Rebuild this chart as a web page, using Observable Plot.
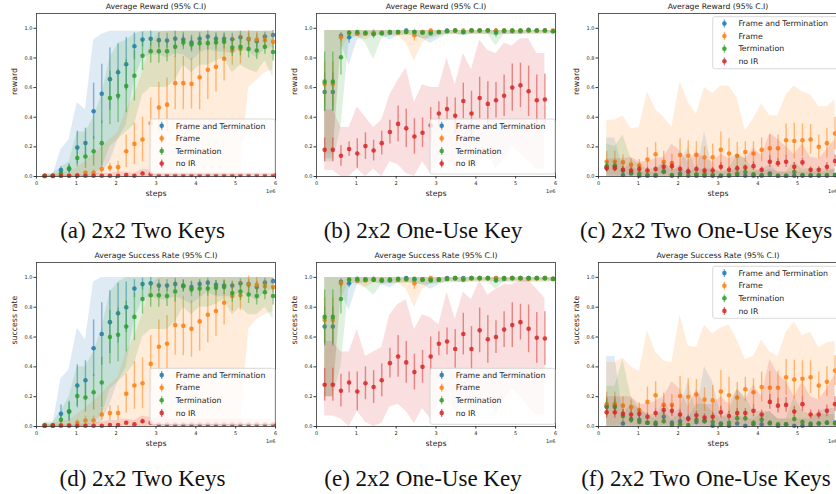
<!DOCTYPE html>
<html><head><meta charset="utf-8">
<script src="https://cdn.jsdelivr.net/npm/d3@7"></script>
<script src="https://cdn.jsdelivr.net/npm/@observablehq/plot@0.6"></script>
<style>
html,body{margin:0;padding:0;background:#fff;overflow:hidden;}
#fig{position:relative;width:836px;height:494px;overflow:hidden;background:#fff;}
.panel{position:absolute;width:280px;height:200px;}
#overlay{position:absolute;left:0;top:0;pointer-events:none;}
</style>
</head><body>
<div id="fig"></div>
<script>
// ---------- shared ----------
const steps = [0.205,0.410,0.614,0.819,1.024,1.229,1.434,1.638,1.843,2.048,2.253,2.458,2.662,2.867,3.072,3.277,3.482,3.686,3.891,4.096,4.301,4.506,4.710,4.915,5.120,5.325,5.530,5.734,5.939]; // x 1e6
const xTicks = [0,1,2,3,4,5,6];
const yTicks = [0.0,0.2,0.4,0.6,0.8,1.0];
const seriesNames = ["Frame and Termination","Frame","Termination","no IR"];
const seriesColors = ["#1f77b4","#ff7f0e","#2ca02c","#d62728"];
const titles = ["Average Reward (95% C.I)","Average Success Rate (95% C.I)"];
const yLabels = ["reward","success rate"];
const captions = ["(a) 2x2 Two Keys","(b) 2x2 One-Use Key","(c) 2x2 Two One-Use Keys","(d) 2x2 Two Keys","(e) 2x2 One-Use Key","(f) 2x2 Two One-Use Keys"];
const Z29 = [0,0,0,0,0,0,0,0,0,0,0,0,0,0,0,0,0,0,0,0,0,0,0,0,0,0,0,0,0];

// ---------- (a) 2x2 Two Keys, reward ----------
const aFT_m = [0.003,0.005,0.043,0.05,0.195,0.226,0.44,0.558,0.657,0.704,0.758,0.879,0.924,0.93,0.92,0.917,0.93,0.924,0.904,0.93,0.944,0.93,0.93,0.926,0.94,0.928,0.912,0.944,0.955];
const aFT_e = [0.004,0.004,0.025,0.03,0.11,0.1,0.19,0.2,0.21,0.19,0.18,0.09,0.05,0.05,0.05,0.05,0.05,0.05,0.05,0.04,0.04,0.04,0.04,0.04,0.04,0.04,0.05,0.03,0.03];
const aFT_lo = [0,0,0,0,0,0,0,0.02,0.1,0.25,0.35,0.65,0.8,0.82,0.82,0.8,0.83,0.82,0.78,0.83,0.86,0.84,0.84,0.83,0.86,0.84,0.8,0.86,0.87];
const aFT_hi = [0.01,0.01,0.18,0.25,0.5,0.45,0.92,0.96,0.98,0.98,0.98,0.98,0.98,0.98,0.98,0.98,0.98,0.98,0.98,0.98,0.98,0.98,0.98,0.98,0.98,0.98,0.98,0.98,0.98];
const aF_m = [0.002,0.002,0.005,0.005,0.01,0.025,0.025,0.05,0.06,0.063,0.17,0.22,0.25,0.36,0.465,0.485,0.63,0.63,0.625,0.67,0.72,0.74,0.795,0.85,0.86,0.925,0.925,0.92,0.91];
const aF_e = [0.003,0.003,0.005,0.005,0.01,0.015,0.02,0.025,0.03,0.04,0.11,0.14,0.15,0.17,0.17,0.18,0.18,0.18,0.17,0.22,0.2,0.17,0.15,0.1,0.1,0.06,0.05,0.04,0.05];
const aF_lo = [0,0,0,0,0,0,0,0,0,0,0,0,0,0,0,0,0,0,0,0,0,0,0,0,0,0.6,0.65,0.7,0.72];
const aF_hi = [0.01,0.01,0.03,0.03,0.06,0.1,0.15,0.2,0.25,0.3,0.45,0.55,0.7,0.9,0.97,0.98,0.98,0.98,0.98,0.98,0.98,0.98,0.98,0.98,0.98,0.98,0.98,0.98,0.98];
const aT_m = [0.005,0.005,0.02,0.055,0.125,0.135,0.17,0.225,0.53,0.545,0.61,0.68,0.815,0.845,0.845,0.845,0.875,0.905,0.89,0.9,0.9,0.905,0.91,0.87,0.875,0.86,0.85,0.875,0.84];
const aT_e = [0.005,0.005,0.02,0.03,0.06,0.08,0.1,0.15,0.18,0.18,0.18,0.17,0.1,0.08,0.08,0.07,0.07,0.05,0.05,0.05,0.05,0.05,0.05,0.06,0.06,0.06,0.06,0.05,0.06];
const aT_lo = [0,0,0,0,0,0,0.02,0.05,0.2,0.25,0.3,0.35,0.55,0.6,0.6,0.6,0.65,0.75,0.7,0.75,0.75,0.78,0.8,0.7,0.75,0.72,0.7,0.78,0.67];
const aT_hi = [0.02,0.02,0.06,0.1,0.3,0.3,0.4,0.55,0.8,0.9,0.92,0.96,0.98,0.98,0.98,0.98,0.98,0.98,0.98,0.98,0.98,0.98,0.98,0.98,0.98,0.98,0.98,0.98,0.98];
const aN_m = [0.005,0.005,0.005,0.005,0.005,0.005,0.005,0.005,0.005,0.005,0.01,0.005,0.02,0.015,0.01,0.01,0.01,0.01,0.01,0.01,0.01,0.01,0.01,0.01,0.01,0.01,0.01,0.01,0.01];
const aN_e = [0.004,0.004,0.004,0.004,0.004,0.004,0.004,0.004,0.004,0.004,0.006,0.004,0.01,0.01,0.006,0.006,0.006,0.006,0.006,0.006,0.006,0.006,0.006,0.006,0.006,0.006,0.006,0.006,0.006];
const aN_hi = [0.01,0.01,0.01,0.01,0.01,0.01,0.02,0.02,0.02,0.03,0.03,0.02,0.05,0.04,0.03,0.03,0.03,0.03,0.03,0.03,0.03,0.03,0.03,0.03,0.03,0.03,0.03,0.03,0.03];

// ---------- (b) 2x2 One-Use Key, reward ----------
const bFT_m = [0.57,0.57,0.95,0.94,0.965,0.965,0.965,0.97,0.97,0.975,0.985,0.975,0.975,0.975,0.975,0.985,0.985,0.975,0.985,0.985,0.985,0.98,0.98,0.98,0.98,0.99,0.985,0.985,0.98];
const bFT_e = [0.13,0.13,0.02,0.04,0.01,0.01,0.01,0.01,0.01,0.01,0.01,0.01,0.01,0.01,0.01,0.01,0.01,0.01,0.01,0.01,0.01,0.01,0.01,0.01,0.01,0.01,0.01,0.01,0.01];
const bFT_lo = [0.12,0.12,0.9,0.75,0.92,0.95,0.96,0.95,0.92,0.95,0.96,0.95,0.93,0.9,0.93,0.96,0.96,0.95,0.96,0.96,0.96,0.95,0.96,0.96,0.96,0.97,0.97,0.97,0.97];
const bFT_hi = [0.985,0.985,0.985,0.985,0.985,0.985,0.985,0.985,0.985,0.985,0.985,0.985,0.985,0.985,0.985,0.985,0.985,0.985,0.985,0.985,0.985,0.985,0.985,0.985,0.985,0.985,0.985,0.985,0.985];
const bF_m = [0.625,0.625,0.94,0.97,0.965,0.965,0.97,0.97,0.975,0.97,0.975,0.953,0.975,0.985,0.975,0.98,0.985,0.985,0.985,0.985,0.985,0.985,0.985,0.985,0.985,0.985,0.985,0.985,0.985];
const bF_e = [0.15,0.15,0.03,0.01,0.01,0.01,0.01,0.01,0.01,0.01,0.01,0.04,0.01,0.01,0.01,0.01,0.01,0.01,0.01,0.01,0.01,0.01,0.01,0.01,0.01,0.01,0.01,0.01,0.01];
const bF_lo = [0.15,0.15,0.85,0.95,0.94,0.92,0.95,0.95,0.95,0.95,0.9,0.78,0.9,0.95,0.95,0.96,0.96,0.96,0.96,0.96,0.96,0.96,0.96,0.96,0.96,0.96,0.96,0.96,0.96];
const bF_hi = bFT_hi;
const bT_m = [0.64,0.64,0.805,0.97,0.975,0.97,0.96,0.965,0.975,0.975,0.975,0.975,0.97,0.965,0.975,0.98,0.985,0.975,0.985,0.985,0.985,0.97,0.985,0.985,0.985,0.985,0.985,0.985,0.98];
const bT_e = [0.2,0.2,0.12,0.01,0.01,0.01,0.03,0.01,0.01,0.01,0.01,0.01,0.01,0.01,0.01,0.01,0.01,0.01,0.01,0.01,0.01,0.03,0.01,0.01,0.01,0.01,0.01,0.01,0.01];
const bT_lo = [0.1,0.1,0.33,0.92,0.95,0.9,0.79,0.93,0.95,0.95,0.95,0.95,0.93,0.93,0.95,0.96,0.96,0.95,0.96,0.96,0.96,0.88,0.96,0.96,0.96,0.96,0.96,0.96,0.96];
const bT_hi = bFT_hi;
const bN_m = [0.18,0.18,0.14,0.185,0.155,0.205,0.175,0.225,0.3,0.355,0.325,0.27,0.295,0.345,0.425,0.455,0.41,0.51,0.425,0.53,0.49,0.515,0.545,0.6,0.615,0.575,0.515,0.52];
const bN_e = [0.08,0.08,0.07,0.05,0.1,0.09,0.07,0.08,0.08,0.12,0.13,0.12,0.1,0.12,0.08,0.08,0.12,0.12,0.15,0.14,0.15,0.12,0.14,0.16,0.15,0.17,0.17,0.17];
const bN_lo = [0.04,0.04,0.0,0.0,0.05,0.0,0.05,0.0,0.1,0.08,0.02,0.0,0.1,0.02,0.1,0.12,0.05,0.12,0.05,0.1,0.15,0.05,0.12,0.2,0.15,0.1,0.05,0.05];
const bN_hi = [0.45,0.45,0.33,0.33,0.47,0.4,0.33,0.38,0.55,0.65,0.73,0.5,0.62,0.6,0.6,0.8,0.62,0.83,0.72,0.92,0.85,0.83,0.9,0.88,0.93,0.93,0.83,0.83];

// ---------- (c) 2x2 Two One-Use Keys, reward ----------
const cFT_m = [0.06,0.07,0.01,0.02,0.005,0.005,0.005,0.035,0.005,0.02,0.03,0.005,0.005,0.005,0.005,0.005,0.01,0.005,0.005,0.01,0.02,0.005,0.005,0.005,0.005,0.005,0.005,0.005,0.01];
const cFT_e = [0.03,0.03,0.01,0.01,0.005,0.005,0.005,0.02,0.005,0.01,0.02,0.005,0.005,0.005,0.005,0.005,0.01,0.005,0.005,0.01,0.01,0.005,0.005,0.005,0.005,0.005,0.005,0.005,0.01];
const cFT_hi = [0.26,0.26,0.05,0.08,0.03,0.03,0.03,0.1,0.03,0.08,0.2,0.03,0.3,0.05,0.03,0.03,0.05,0.03,0.03,0.05,0.08,0.03,0.03,0.03,0.03,0.03,0.03,0.03,0.05];
const cF_m = [0.1,0.1,0.095,0.08,0.075,0.115,0.15,0.1,0.09,0.145,0.14,0.145,0.13,0.13,0.18,0.155,0.14,0.165,0.155,0.18,0.19,0.19,0.245,0.24,0.245,0.25,0.2,0.225,0.29];
const cF_e = [0.07,0.07,0.05,0.04,0.04,0.08,0.08,0.07,0.06,0.11,0.1,0.09,0.07,0.09,0.12,0.1,0.09,0.07,0.08,0.08,0.09,0.09,0.11,0.12,0.11,0.1,0.08,0.1,0.11];
const cF_lo = [0.01,0.01,0.01,0.01,0.01,0.01,0.01,0.01,0.01,0.01,0.01,0.01,0.01,0.01,0.01,0.01,0.01,0.01,0.01,0.01,0.01,0.01,0.01,0.01,0.01,0.01,0.01,0.01,0.01];
const cF_hi = [0.38,0.38,0.41,0.32,0.33,0.57,0.45,0.4,0.33,0.64,0.5,0.42,0.6,0.56,0.61,0.61,0.53,0.31,0.39,0.49,0.41,0.41,0.55,0.61,0.57,0.55,0.47,0.47,0.52];
const cT_m = [0.07,0.07,0.04,0.025,0.02,0.01,0.01,0.03,0.01,0.01,0.005,0.015,0.015,0.01,0.005,0.01,0.02,0.03,0.015,0.005,0.01,0.005,0.005,0.03,0.01,0.01,0.01,0.01,0.01];
const cT_e = [0.03,0.03,0.03,0.02,0.01,0.005,0.005,0.015,0.005,0.005,0.005,0.01,0.01,0.005,0.005,0.005,0.015,0.02,0.01,0.005,0.005,0.005,0.005,0.02,0.005,0.005,0.005,0.005,0.005];
const cT_hi = [0.22,0.2,0.28,0.12,0.08,0.05,0.05,0.1,0.05,0.05,0.03,0.05,0.05,0.05,0.03,0.05,0.15,0.12,0.05,0.03,0.05,0.03,0.03,0.1,0.05,0.05,0.05,0.05,0.05];
const cN_m = [0.055,0.055,0.045,0.04,0.05,0.04,0.05,0.065,0.07,0.05,0.035,0.05,0.04,0.04,0.065,0.045,0.055,0.06,0.07,0.045,0.1,0.09,0.1,0.065,0.095,0.045,0.045,0.065,0.105];
const cN_e = [0.02,0.02,0.02,0.02,0.02,0.02,0.02,0.02,0.03,0.02,0.02,0.02,0.02,0.02,0.03,0.02,0.02,0.02,0.03,0.02,0.04,0.03,0.04,0.03,0.03,0.02,0.02,0.03,0.04];
const cN_hi = [0.12,0.12,0.12,0.13,0.1,0.1,0.12,0.13,0.22,0.17,0.1,0.17,0.12,0.1,0.15,0.12,0.15,0.12,0.19,0.14,0.29,0.25,0.2,0.15,0.22,0.13,0.12,0.18,0.25];

// ---------- (d) 2x2 Two Keys, success rate ----------
const dFT_m = [0.005,0.005,0.085,0.1,0.275,0.31,0.525,0.62,0.7,0.76,0.8,0.925,0.955,0.96,0.945,0.945,0.955,0.945,0.935,0.955,0.965,0.95,0.945,0.945,0.96,0.955,0.935,0.965,0.975];
const dFT_e = [0.005,0.005,0.06,0.07,0.14,0.13,0.19,0.21,0.21,0.2,0.17,0.06,0.04,0.04,0.04,0.04,0.04,0.04,0.04,0.03,0.03,0.03,0.03,0.03,0.03,0.03,0.04,0.03,0.02];
const dFT_lo = [0,0,0,0,0,0,0,0.03,0.15,0.3,0.4,0.72,0.85,0.87,0.85,0.85,0.87,0.85,0.82,0.86,0.9,0.87,0.87,0.87,0.9,0.88,0.84,0.9,0.92];
const dFT_hi = [0.01,0.01,0.32,0.38,0.66,0.58,0.97,1,1,1,1,1,1,1,1,1,1,1,1,1,1,1,1,1,1,1,1,1,1];
const dF_m = [0.005,0.005,0.01,0.01,0.025,0.04,0.04,0.08,0.09,0.09,0.22,0.275,0.29,0.42,0.535,0.555,0.68,0.675,0.655,0.705,0.75,0.775,0.83,0.875,0.88,0.95,0.95,0.94,0.935];
const dF_e = [0.005,0.005,0.01,0.01,0.02,0.03,0.03,0.04,0.05,0.05,0.13,0.16,0.17,0.19,0.18,0.19,0.2,0.2,0.19,0.2,0.19,0.17,0.15,0.1,0.1,0.06,0.05,0.04,0.04];
const dF_lo = [0,0,0,0,0,0,0,0,0,0,0,0,0,0,0,0,0,0,0,0,0,0,0,0,0,0.65,0.72,0.75,0.77];
const dF_hi = [0.02,0.02,0.04,0.04,0.08,0.12,0.17,0.22,0.28,0.33,0.5,0.6,0.75,0.95,1,1,1,1,1,1,1,1,1,1,1,1,1,1,1];
const dT_m = [0.01,0.01,0.045,0.1,0.205,0.195,0.23,0.295,0.6,0.615,0.67,0.735,0.855,0.88,0.88,0.875,0.905,0.94,0.92,0.925,0.925,0.93,0.935,0.895,0.905,0.885,0.875,0.9,0.875];
const dT_e = [0.005,0.005,0.03,0.06,0.08,0.1,0.12,0.17,0.18,0.18,0.17,0.16,0.1,0.08,0.08,0.07,0.07,0.04,0.05,0.05,0.05,0.05,0.05,0.06,0.06,0.06,0.06,0.05,0.06];
const dT_lo = [0,0,0,0,0,0,0.03,0.07,0.25,0.3,0.35,0.42,0.6,0.65,0.65,0.65,0.7,0.8,0.75,0.8,0.8,0.82,0.85,0.75,0.8,0.75,0.75,0.8,0.72];
const dT_hi = [0.03,0.03,0.1,0.2,0.4,0.4,0.5,0.65,0.9,0.97,1,1,1,1,1,1,1,1,1,1,1,1,1,1,1,1,1,1,1];
const dN_m = [0.005,0.005,0.005,0.005,0.005,0.005,0.005,0.005,0.01,0.01,0.025,0.015,0.035,0.025,0.015,0.015,0.015,0.015,0.015,0.015,0.015,0.015,0.015,0.015,0.015,0.015,0.015,0.015,0.015];
const dN_e = [0.004,0.004,0.004,0.004,0.004,0.004,0.004,0.004,0.006,0.006,0.01,0.008,0.015,0.012,0.008,0.008,0.008,0.008,0.008,0.008,0.008,0.008,0.008,0.008,0.008,0.008,0.008,0.008,0.008];
const dN_hi = [0.01,0.01,0.01,0.01,0.01,0.02,0.02,0.03,0.04,0.04,0.05,0.04,0.07,0.06,0.05,0.05,0.05,0.05,0.05,0.05,0.05,0.05,0.05,0.05,0.05,0.05,0.05,0.05,0.05];

// ---------- (e) 2x2 One-Use Key, success rate ----------
const eFT_m = [0.67,0.67,0.97,0.96,0.98,0.985,0.985,0.98,0.98,0.985,0.995,0.985,0.985,0.985,0.985,0.995,0.995,0.995,0.995,0.995,0.995,0.995,0.99,0.995,0.995,0.995,0.995,0.995,0.99];
const eFT_e = [0.13,0.13,0.02,0.03,0.01,0.01,0.01,0.01,0.01,0.01,0.01,0.01,0.01,0.01,0.01,0.01,0.01,0.01,0.01,0.01,0.01,0.01,0.01,0.01,0.01,0.01,0.01,0.01,0.01];
const eFT_lo = [0.2,0.2,0.9,0.78,0.95,0.97,0.97,0.95,0.93,0.96,0.97,0.96,0.95,0.92,0.95,0.97,0.97,0.97,0.98,0.98,0.98,0.97,0.97,0.98,0.98,0.98,0.98,0.98,0.98];
const eFT_hi = [1,1,1,1,1,1,1,1,1,1,1,1,1,1,1,1,1,1,1,1,1,1,1,1,1,1,1,1,1];
const eF_m = [0.715,0.715,0.96,0.985,0.98,0.98,0.985,0.985,0.985,0.985,0.985,0.96,0.985,0.995,0.985,0.99,0.995,0.99,0.995,0.995,0.995,0.995,0.995,0.995,0.995,0.99,0.995,0.995,0.99];
const eF_e = [0.15,0.15,0.03,0.01,0.01,0.01,0.01,0.01,0.01,0.01,0.01,0.04,0.01,0.01,0.01,0.01,0.01,0.01,0.01,0.01,0.01,0.01,0.01,0.01,0.01,0.01,0.01,0.01,0.01];
const eF_lo = [0.2,0.2,0.85,0.97,0.95,0.93,0.96,0.96,0.96,0.96,0.92,0.8,0.92,0.96,0.96,0.97,0.97,0.97,0.97,0.97,0.97,0.97,0.97,0.97,0.97,0.97,0.97,0.97,0.97];
const eF_hi = eFT_hi;
const eT_m = [0.735,0.735,0.855,0.985,0.99,0.985,0.985,0.98,0.985,0.99,0.99,0.99,0.985,0.98,0.985,0.99,0.995,0.985,0.995,0.995,0.995,0.98,0.995,0.995,0.995,0.995,0.995,0.995,0.99];
const eT_e = [0.18,0.18,0.1,0.01,0.01,0.01,0.02,0.01,0.01,0.01,0.01,0.01,0.01,0.01,0.01,0.01,0.01,0.01,0.01,0.01,0.01,0.02,0.01,0.01,0.01,0.01,0.01,0.01,0.01];
const eT_lo = [0.2,0.2,0.4,0.95,0.97,0.93,0.88,0.95,0.96,0.96,0.96,0.96,0.95,0.95,0.96,0.97,0.97,0.96,0.97,0.97,0.97,0.92,0.97,0.97,0.97,0.97,0.97,0.97,0.97];
const eT_hi = eFT_hi;
const eN_m = [0.28,0.28,0.24,0.295,0.235,0.29,0.265,0.31,0.425,0.47,0.43,0.365,0.4,0.47,0.555,0.57,0.52,0.62,0.52,0.645,0.585,0.6,0.65,0.68,0.7,0.655,0.595,0.59];
const eN_e = [0.11,0.11,0.11,0.07,0.13,0.11,0.11,0.11,0.1,0.14,0.14,0.12,0.11,0.13,0.08,0.09,0.13,0.14,0.15,0.15,0.16,0.11,0.12,0.15,0.12,0.16,0.17,0.18];
const eN_lo = [0.07,0.07,0.05,0.0,0.1,0.03,0.0,0.02,0.13,0.15,0.1,0.02,0.12,0.05,0.15,0.18,0.1,0.17,0.07,0.15,0.2,0.08,0.17,0.25,0.2,0.13,0.07,0.07];
const eN_hi = [0.57,0.57,0.5,0.5,0.65,0.47,0.5,0.53,0.75,0.82,0.85,0.65,0.75,0.73,0.68,0.9,0.72,0.9,0.85,0.98,0.88,0.92,0.95,0.95,0.98,0.98,0.92,0.86];

// ---------- (f) 2x2 Two One-Use Keys, success rate ----------
const fFT_m = [0.135,0.14,0.02,0.045,0.045,0.025,0.015,0.065,0.025,0.035,0.055,0.03,0.035,0.005,0.02,0.005,0.02,0.005,0.015,0.015,0.02,0.005,0.015,0.005,0.005,0.01,0.02,0.025,0.025];
const fFT_e = [0.06,0.06,0.015,0.02,0.02,0.015,0.01,0.03,0.015,0.02,0.025,0.02,0.02,0.005,0.01,0.005,0.01,0.005,0.01,0.01,0.01,0.005,0.01,0.005,0.005,0.01,0.01,0.015,0.015];
const fFT_hi = [0.47,0.47,0.08,0.15,0.12,0.08,0.05,0.18,0.08,0.12,0.3,0.1,0.4,0.3,0.08,0.05,0.08,0.05,0.05,0.08,0.1,0.05,0.05,0.05,0.05,0.05,0.1,0.12,0.12];
const fF_m = [0.15,0.15,0.14,0.13,0.11,0.165,0.21,0.145,0.145,0.205,0.2,0.215,0.18,0.175,0.235,0.21,0.195,0.25,0.23,0.265,0.26,0.26,0.33,0.315,0.32,0.33,0.275,0.3,0.375];
const fF_e = [0.08,0.08,0.06,0.05,0.05,0.1,0.09,0.08,0.07,0.13,0.12,0.1,0.08,0.1,0.14,0.12,0.1,0.08,0.09,0.1,0.11,0.11,0.12,0.13,0.12,0.11,0.09,0.1,0.1];
const fF_lo = cF_lo;
const fF_hi = [0.43,0.43,0.46,0.4,0.37,0.64,0.5,0.44,0.43,0.75,0.54,0.53,0.68,0.62,0.66,0.68,0.58,0.45,0.47,0.58,0.5,0.47,0.63,0.7,0.61,0.63,0.53,0.56,0.57];
const fT_m = [0.13,0.13,0.07,0.05,0.03,0.025,0.025,0.035,0.01,0.015,0.01,0.045,0.04,0.03,0.01,0.025,0.055,0.055,0.025,0.045,0.025,0.015,0.015,0.05,0.03,0.02,0.02,0.025,0.02];
const fT_e = [0.05,0.05,0.04,0.03,0.02,0.015,0.015,0.02,0.01,0.01,0.01,0.02,0.02,0.02,0.01,0.015,0.025,0.025,0.015,0.02,0.015,0.01,0.01,0.02,0.015,0.01,0.01,0.015,0.01];
const fT_hi = [0.27,0.27,0.45,0.2,0.12,0.08,0.08,0.1,0.05,0.08,0.05,0.15,0.15,0.1,0.05,0.1,0.25,0.2,0.1,0.1,0.1,0.05,0.05,0.2,0.1,0.08,0.08,0.08,0.08];
const fN_m = [0.095,0.095,0.085,0.08,0.085,0.065,0.09,0.11,0.105,0.08,0.05,0.075,0.06,0.065,0.095,0.07,0.09,0.09,0.105,0.08,0.165,0.14,0.145,0.1,0.15,0.08,0.08,0.105,0.15];
const fN_e = [0.04,0.04,0.03,0.03,0.03,0.025,0.03,0.035,0.04,0.03,0.02,0.03,0.025,0.025,0.04,0.03,0.03,0.03,0.04,0.03,0.05,0.05,0.05,0.035,0.05,0.03,0.03,0.04,0.05];
const fN_hi = [0.2,0.2,0.2,0.2,0.15,0.15,0.17,0.2,0.3,0.25,0.13,0.25,0.15,0.15,0.2,0.15,0.25,0.18,0.28,0.2,0.45,0.35,0.3,0.2,0.3,0.2,0.18,0.25,0.35];

// ---------- layout ----------
const panelLefts = [0, 280, 562];
const rowTops = [0, 250];
const rowMarginTop = [13, 12];
const captionX = [142.5, 423, 706];
const captionBaseline = [238, 486];
// legend boxes: [left, top, width, height]
const legendBoxes = [[150,119,125,55],[430,119,125,55],[712.7,16.7,130,52],[150,368.3,125,56],[430,368.3,125,56],[712.7,266.3,130,52]];

function S(m,e,lo,hi){return {m,e,lo,hi};}
const panels = [
  [S(aFT_m,aFT_e,aFT_lo,aFT_hi),S(aF_m,aF_e,aF_lo,aF_hi),S(aT_m,aT_e,aT_lo,aT_hi),S(aN_m,aN_e,Z29,aN_hi)],
  [S(bFT_m,bFT_e,bFT_lo,bFT_hi),S(bF_m,bF_e,bF_lo,bF_hi),S(bT_m,bT_e,bT_lo,bT_hi),S(bN_m,bN_e,bN_lo,bN_hi)],
  [S(cFT_m,cFT_e,Z29,cFT_hi),S(cF_m,cF_e,cF_lo,cF_hi),S(cT_m,cT_e,Z29,cT_hi),S(cN_m,cN_e,Z29,cN_hi)],
  [S(dFT_m,dFT_e,dFT_lo,dFT_hi),S(dF_m,dF_e,dF_lo,dF_hi),S(dT_m,dT_e,dT_lo,dT_hi),S(dN_m,dN_e,Z29,dN_hi)],
  [S(eFT_m,eFT_e,eFT_lo,eFT_hi),S(eF_m,eF_e,eF_lo,eF_hi),S(eT_m,eT_e,eT_lo,eT_hi),S(eN_m,eN_e,eN_lo,eN_hi)],
  [S(fFT_m,fFT_e,Z29,fFT_hi),S(fF_m,fF_e,fF_lo,fF_hi),S(fT_m,fT_e,Z29,fT_hi),S(fN_m,fN_e,Z29,fN_hi)]
];

const fig = document.getElementById("fig");
const txt = "#222";

panels.forEach((series, pi) => {
  const row = Math.floor(pi / 3), col = pi % 3;
  const marks = [];
  series.forEach((s, si) => {
    const color = seriesColors[si];
    const d = s.m.map((v, i) => ({x: steps[i], m: v, e: s.e[i], lo: s.lo[i], hi: s.hi[i]}));
    marks.push(Plot.areaY(d, {x: "x", y1: "lo", y2: "hi", fill: color, fillOpacity: 0.15}));
    marks.push(Plot.ruleX(d, {x: "x", y1: r => Math.max(0, r.m - r.e), y2: r => r.m + r.e, stroke: color, strokeOpacity: 0.5, strokeWidth: 1.4}));
    marks.push(Plot.dot(d, {x: "x", y: "m", fill: color, fillOpacity: 0.85, r: 2.3}));
  });
  marks.push(Plot.frame({stroke: "#333", strokeWidth: 0.8}));
  marks.push(Plot.axisX({ticks: xTicks, tickFormat: d => String(d), tickSize: 2.5, tickPadding: 2.5, fontSize: 5, label: null, stroke: "#333"}));
  marks.push(Plot.axisY({ticks: yTicks, tickFormat: d => d.toFixed(1), tickSize: 2.5, tickPadding: 1.5, fontSize: 5, label: null, stroke: "#333"}));
  marks.push(Plot.text([titles[row]], {text: d => d, frameAnchor: "top", dy: -6.5, lineAnchor: "middle", fontSize: 7.7, fill: txt}));
  marks.push(Plot.text(["steps"], {text: d => d, frameAnchor: "bottom", dy: 17, lineAnchor: "middle", fontSize: 7.8, fill: txt}));
  marks.push(Plot.text(["1e6"], {text: d => d, frameAnchor: "bottom-right", dy: 14.7, textAnchor: "end", lineAnchor: "middle", fontSize: 5, fill: txt}));
  marks.push(Plot.text([yLabels[row]], {text: d => d, frameAnchor: "left", dx: -22, rotate: -90, lineAnchor: "middle", fontSize: 7.8, fill: txt}));

  const chart = Plot.plot({
    width: 280, height: 200,
    marginLeft: 36, marginRight: 5, marginTop: rowMarginTop[row], marginBottom: 24,
    x: {domain: [0, 6]},
    y: {domain: [0, 1.1]},
    style: {fontFamily: "DejaVu Sans", color: txt, background: "none", maxWidth: "none", overflow: "visible"},
    marks
  });
  const div = document.createElement("div");
  div.className = "panel";
  div.style.left = panelLefts[col] + "px";
  div.style.top = rowTops[row] + "px";
  div.appendChild(chart);
  fig.appendChild(div);
});

// overlay: legends + captions
const ov = d3.select(fig).append("svg").attr("id", "overlay").attr("width", 836).attr("height", 494);
legendBoxes.forEach(([lx, ly, lw, lh]) => {
  const g = ov.append("g").attr("transform", `translate(${lx},${ly})`);
  g.append("rect").attr("width", lw).attr("height", lh).attr("rx", 2)
    .attr("fill", "#fff").attr("fill-opacity", 0.8).attr("stroke", "#d0d0d0").attr("stroke-width", 0.8);
  seriesNames.forEach((name, i) => {
    const cy = 6.8 + i * 12.6;
    g.append("line").attr("x1", 11.7).attr("x2", 11.7).attr("y1", cy - 4).attr("y2", cy + 4)
      .attr("stroke", seriesColors[i]).attr("stroke-opacity", 0.6).attr("stroke-width", 1.4);
    g.append("circle").attr("cx", 11.7).attr("cy", cy).attr("r", 2.3).attr("fill", seriesColors[i]).attr("fill-opacity", 0.85);
    g.append("text").attr("x", 25.7).attr("y", cy).attr("dy", "0.35em")
      .attr("font-family", "DejaVu Sans").attr("font-size", 7.8).attr("fill", txt).text(name);
  });
});
captions.forEach((c, i) => {
  const row = Math.floor(i / 3), col = i % 3;
  ov.append("text").attr("x", captionX[col]).attr("y", captionBaseline[row]).attr("text-anchor", "middle")
    .attr("font-family", "Liberation Serif").attr("font-size", 23).attr("fill", "#111").text(c);
});
</script>
</body></html>
